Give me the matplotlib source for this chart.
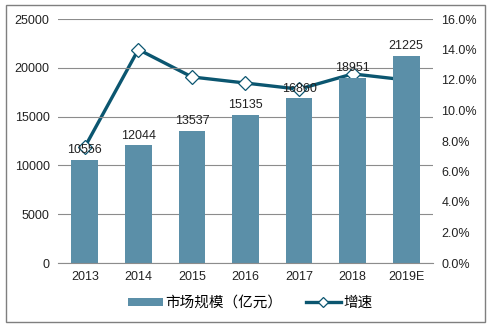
import matplotlib.pyplot as plt
from matplotlib.patches import Rectangle

plt.rcParams['font.family'] = ['Liberation Sans', 'Noto Sans CJK SC', 'DejaVu Sans']

years = ['2013', '2014', '2015', '2016', '2017', '2018', '2019E']
market_size = [10556, 12044, 13537, 15135, 16860, 18951, 21225]
growth = [7.6, 14.0, 12.2, 11.8, 11.4, 12.4, 12.0]

bar_color = '#5b8fa8'
line_color = '#0b5670'
grid_color = '#8c8c8c'

fig = plt.figure(figsize=(4.91, 3.26), dpi=100)
ax = fig.add_axes([58 / 491, 1 - 263 / 326, 375 / 491, 244 / 326])
ax2 = ax.twinx()

x = list(range(len(years)))
bars = ax.bar(x, market_size, width=0.5, color=bar_color, zorder=2, label='市场规模（亿元）')
for xi, v in zip(x, market_size):
    ax.text(xi, v + 400, str(v), ha='center', va='bottom', fontsize=9, color='#222222', zorder=5)

ax.set_xlim(-0.5, len(years) - 0.5)
ax.set_ylim(0, 25000)
ax.set_yticks(range(0, 25001, 5000))
ax.yaxis.grid(True, color=grid_color, linewidth=0.8)
ax.set_axisbelow(True)
ax.set_xticks(x)
ax.set_xticklabels(years)
ax.tick_params(axis='both', length=0, labelsize=9, colors='#222222')
ax.tick_params(axis='x', pad=6)
ax.tick_params(axis='y', pad=6)
for s in ['top', 'right', 'left']:
    ax.spines[s].set_visible(False)
ax.spines['bottom'].set_color(grid_color)

line, = ax2.plot(x, growth, color=line_color, linewidth=2.4, marker='D', markersize=7,
                 markerfacecolor='white', markeredgecolor=line_color, markeredgewidth=0.9,
                 zorder=4, label='增速')
ax2.set_ylim(0, 16)
ax2.set_yticks(range(0, 17, 2))
ax2.set_yticklabels([f'{t:.1f}%' for t in range(0, 17, 2)])
ax2.tick_params(axis='y', length=0, labelsize=9, colors='#222222', pad=6)
for s in ax2.spines.values():
    s.set_visible(False)
ax.set_zorder(ax2.get_zorder() + 1)
ax.patch.set_visible(False)

leg = fig.legend([bars, line], ['市场规模（亿元）', '增速'], loc='center',
                 bbox_to_anchor=(0.51, 1 - 303 / 326), ncol=2, frameon=False,
                 prop={'size': 10.5}, handlelength=2.4, handleheight=0.45,
                 columnspacing=1.6, handletextpad=0.2, markerscale=0.7)

fig.patches.append(Rectangle((6 / 491, 4 / 326), 479 / 491, 317 / 326, transform=fig.transFigure,
                             fill=False, edgecolor='#7f7f7f', linewidth=1))

fig.savefig('out.png', dpi=100)
